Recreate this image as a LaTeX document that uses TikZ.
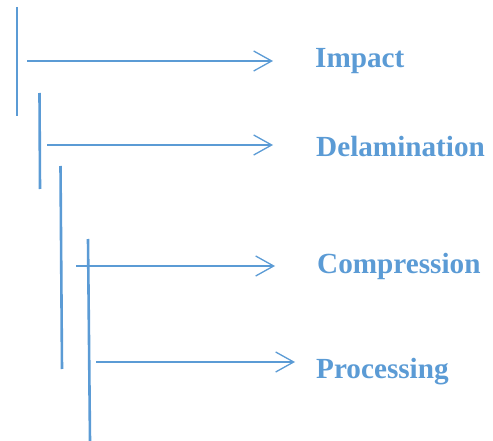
\documentclass[tikz,border=0pt]{standalone}
\usepackage{fontspec}
\setmainfont{Liberation Serif}
\usetikzlibrary{arrows.meta}
\definecolor{stageblue}{HTML}{5B9BD5}
\tikzset{
	stage/.style={anchor=base west, inner sep=0pt, text=stageblue,
		font=\fontsize{29.2}{32}\selectfont\bfseries},
	bar/.style={draw=stageblue, line width=2.6pt},
	flow/.style={draw=stageblue, line width=1.3pt,
		-{Straight Barb[length=18pt,width=20pt]}}
}
\begin{document}
\begin{tikzpicture}[x=1pt,y=-1pt]
			\useasboundingbox (0,0) rectangle (493,441);
			\foreach \xa\ya\xb\yb in {17/7/17/116,39.5/93/40/189,60.5/166/62/369,88/239/90/441}{
				\draw[bar] (\xa,\ya) -- (\xb,\yb);
			}
			\node[stage] (impact) at (315,68) {Impact};
			\node[stage] (delam) at (316,157) {Delamination};
			\node[stage] (compr) at (317,273) {Compression};
			\node[stage] (proc) at (316,378) {Processing};
			\foreach \n\xs\xe\y in {1/27/273/61,2/47/273/145,3/76/275/266,4/96/295/362}{
				\coordinate (s\n) at (\xs,\y);
				\coordinate (e\n) at (\xe,\y);
				\draw[flow] (s\n) -- (e\n);
			}
		\end{tikzpicture}
\end{document}
